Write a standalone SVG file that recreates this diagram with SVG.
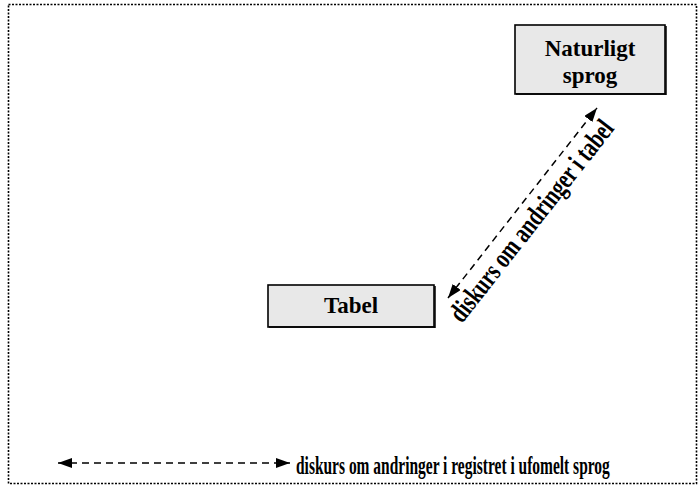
<svg xmlns="http://www.w3.org/2000/svg" width="699" height="487" viewBox="0 0 699 487">
<style>
.box{fill:#e8e8e8;stroke:#000;stroke-width:1.6}
.lbl{font-family:"Liberation Serif","Times New Roman",serif;font-weight:bold;font-size:23px;text-anchor:middle;fill:#000}
.cond{font-family:"Liberation Serif","Times New Roman",serif;font-weight:bold;fill:#000}
.dash{stroke:#000;stroke-width:1.5;stroke-dasharray:7 5;fill:none}
</style>
<defs>
<marker id="ah" viewBox="0 0 14 10" refX="14" refY="5" markerWidth="14" markerHeight="10" markerUnits="userSpaceOnUse" orient="auto-start-reverse">
<path d="M0,0 L14,5 L0,10 Z" fill="#000"/>
</marker>
</defs>
<rect x="0" y="0" width="699" height="487" fill="#fff"/>
<rect x="8.5" y="4.5" width="688" height="479" fill="none" stroke="#000" stroke-width="1.6" stroke-dasharray="2 1.5"/>
<g id="naturligt">
<rect class="box" x="515" y="25" width="150" height="69"/>
<line x1="516" y1="94" x2="666" y2="94" stroke="#000" stroke-width="1.5"/>
<line x1="666" y1="26" x2="666" y2="95" stroke="#000" stroke-width="1.5"/>
<text class="lbl" x="590" y="56">Naturligt</text>
<text class="lbl" x="590" y="83">sprog</text>
</g>
<g id="tabel">
<rect class="box" x="268" y="285" width="166" height="42"/>
<line x1="269" y1="327" x2="435" y2="327" stroke="#000" stroke-width="1.5"/>
<line x1="435" y1="286" x2="435" y2="328" stroke="#000" stroke-width="1.5"/>
<text class="lbl" x="351" y="313">Tabel</text>
</g>
<g id="connectors">
<line class="dash" x1="448" y1="298" x2="597" y2="108" marker-start="url(#ah)" marker-end="url(#ah)"/>
<line class="dash" x1="58" y1="463" x2="290" y2="463" marker-start="url(#ah)" marker-end="url(#ah)"/>
<text class="cond" font-size="28" transform="translate(462,324) rotate(-51.9) scale(0.8,1)" x="0" y="0" textLength="310" lengthAdjust="spacingAndGlyphs">diskurs om andringer i tabel</text>
<text class="cond" font-size="25" transform="translate(296,474) scale(0.6,1)" x="0" y="0" textLength="523" lengthAdjust="spacingAndGlyphs">diskurs om andringer i registret i ufomelt sprog</text>
</g>
</svg>
